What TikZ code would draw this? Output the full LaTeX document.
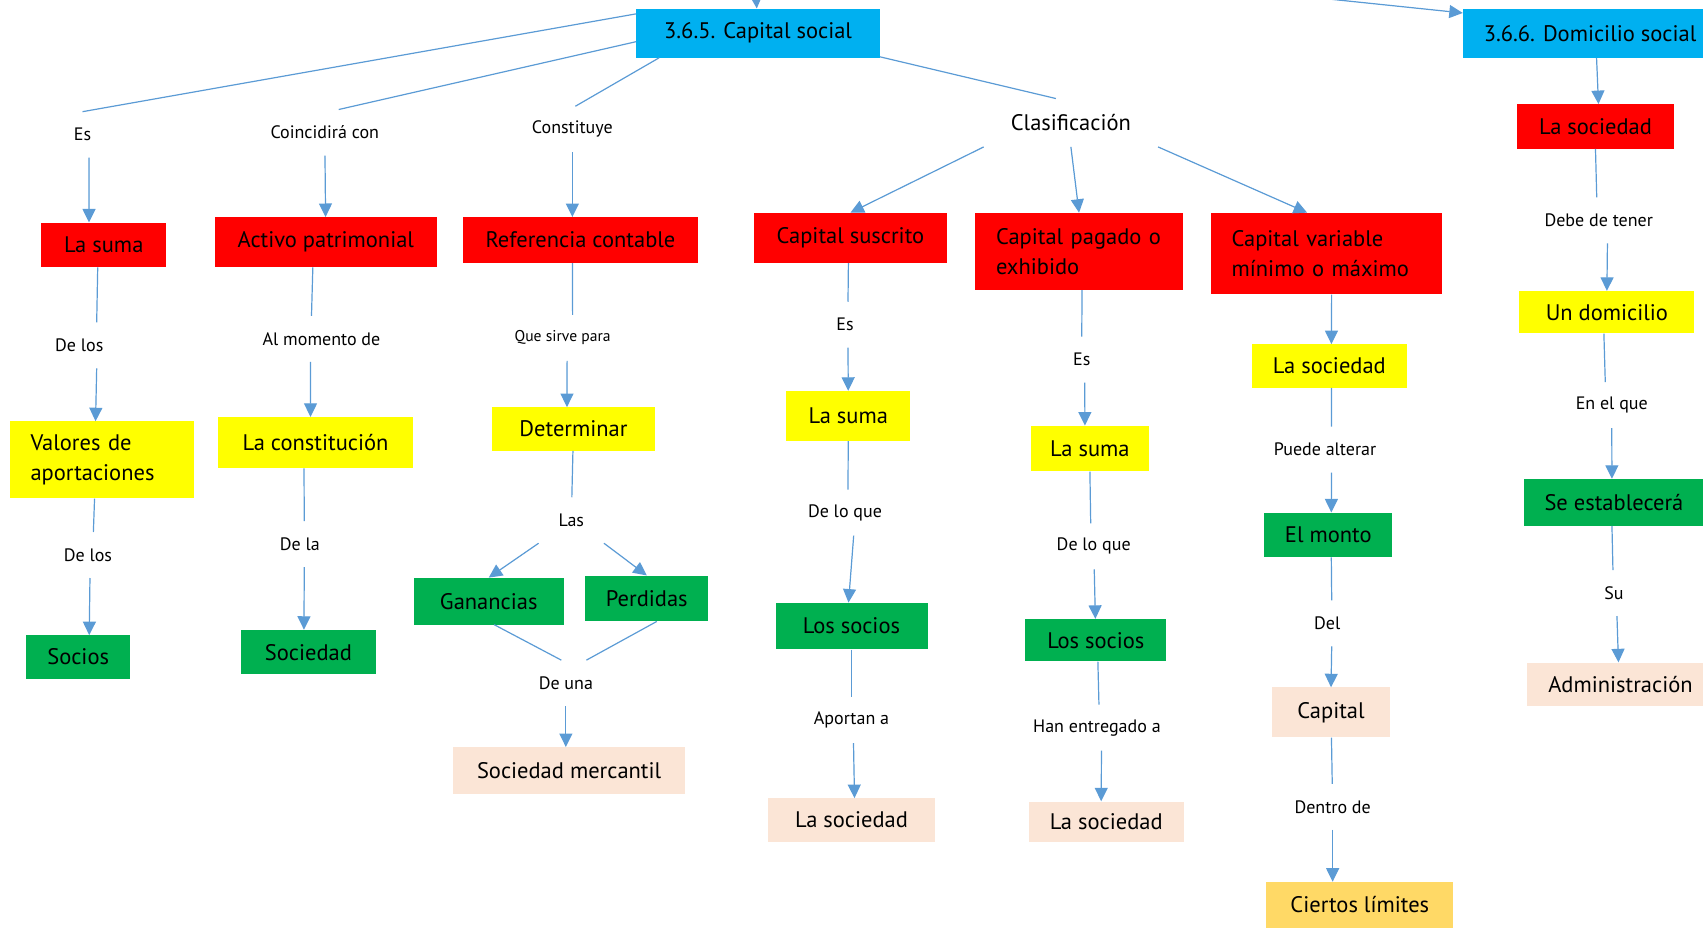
\documentclass[tikz,border=0pt]{standalone}
\usepackage{fontspec}
\setmainfont{PT Sans}
\usetikzlibrary{arrows.meta}

\definecolor{cian}{RGB}{0,176,240}
\definecolor{rojo}{RGB}{255,0,0}
\definecolor{amarillo}{RGB}{255,255,0}
\definecolor{verde}{RGB}{0,176,80}
\definecolor{durazno}{RGB}{251,229,214}
\definecolor{oro}{RGB}{255,217,102}
\definecolor{linea}{RGB}{91,155,213}

\begin{document}
\begin{tikzpicture}
  [x=1.0861pt, y=-1.0861pt,
   caja/.style={inner sep=0pt, font=\fontsize{22.5}{29.5}\selectfont},
   dos/.style={caja, align=left, inner xsep=21pt},
   titulo/.style={caja, fill=cian},
   rojobox/.style={caja, fill=rojo},
   amarillobox/.style={caja, fill=amarillo},
   verdebox/.style={caja, fill=verde},
   duraznobox/.style={caja, fill=durazno},
   frase/.style={inner sep=0pt, minimum height=45.6pt, font=\fontsize{18}{21}\selectfont},
   conn/.style={draw=linea, line width=1.2pt},
   arr/.style={conn, -{Triangle[length=13.5pt,width=13pt]}, fill=linea}]
  \useasboundingbox (0,0) rectangle (1568,854);

  % conceptos principales
  \node[titulo, minimum width=243.3pt, minimum height=48.9pt] (cap365) at (698,30.5) {3.6.5. Capital social};
  \node[titulo, minimum width=254.1pt, minimum height=48.9pt] (dom366) at (1464,30.5) {3.6.6. Domicilio social};
  \coordinate (entrada1) at (695,-25);
  \coordinate (entrada2) at (1107,-13);
  \draw[arr] (entrada1) -- (cap365);
  \draw[arr] (entrada2) -- (dom366.171);

  % frases de primer nivel
  \node[frase] (lEs1) at (76,124) {Es};
  \node[frase] (lCoin) at (299,122) {Coincidirá con};
  \node[frase] (lConst) at (527,119) {Constituye};
  \node[frase, minimum width=174pt, minimum height=48pt, font=\fontsize{22.5}{26}\selectfont] (lClas) at (986,113) {Clasificación};
  \draw[conn] (cap365.171) -- (lEs1.north);
  \draw[conn] (cap365.184) -- ([xshift=14pt]lCoin.north);
  \draw[conn] (cap365.194) -- ([xshift=3pt]lConst.north);
  \draw[conn] (cap365.349) -- ([xshift=-15pt]lClas.north);

  % Es
  \node[rojobox, minimum width=125pt, minimum height=44.5pt] (lasumaA) at (95.5,225.5) {La suma};
  \node[frase] (lDelos1) at (73,318) {De los};
  \node[amarillobox, dos, text width=142pt, minimum height=77pt] (valores) at (93.5,423.5) {\mbox{Valores de}\\\mbox{aportaciones}};
  \node[frase] (lDelos2) at (81,511) {De los};
  \node[verdebox, minimum width=104.3pt, minimum height=43.5pt] (socios) at (72,605) {Socios};
  \draw[arr] ([xshift=6.5pt]lEs1.south) -- ([xshift=-14.7pt]lasumaA.north);
  \draw[conn] ([xshift=-6pt]lasumaA.south) -- ([xshift=17.4pt]lDelos1.north);
  \draw[arr] ([xshift=17.4pt]lDelos1.south) -- ([xshift=-6pt]valores.north);
  \draw[conn] ([xshift=-7pt]valores.south) -- ([xshift=5.4pt]lDelos2.north);
  \draw[arr] ([xshift=2pt]lDelos2.south) -- ([xshift=11pt]socios.north);

  % Coincidira con
  \node[rojobox, minimum width=221.6pt, minimum height=50pt] (activo) at (300,223) {Activo patrimonial};
  \node[frase] (lAlmom) at (296,312) {Al momento de};
  \node[amarillobox, minimum width=194.4pt, minimum height=51pt] (lacons) at (290.5,407.5) {La constitución};
  \node[frase] (lDela) at (276,501) {De la};
  \node[verdebox, minimum width=134.7pt, minimum height=44.5pt] (sociedad) at (284,600.5) {Sociedad};
  \draw[arr] (lCoin) -- (activo);
  \draw[conn] ([xshift=-13pt]activo.south) -- ([xshift=-10pt]lAlmom.north);
  \draw[arr] ([xshift=-11pt]lAlmom.south) -- ([xshift=-5pt]lacons.north);
  \draw[conn] ([xshift=-11.5pt]lacons.south) -- ([xshift=4.5pt]lDela.north);
  \draw[arr] ([xshift=4.5pt]lDela.south) -- ([xshift=-4.5pt]sociedad.north);

  % Constituye
  \node[rojobox, minimum width=235.7pt, minimum height=45.6pt] (refcont) at (534.5,221) {Referencia contable};
  \node[frase, font=\fontsize{15.6}{18}\selectfont] (lQue) at (518,311) {Que sirve para};
  \node[amarillobox, minimum width=163pt, minimum height=43.4pt] (determinar) at (528,395) {Determinar};
  \node[frase, minimum width=65pt] (lLas) at (526,479) {Las};
  \node[verdebox, minimum width=150pt, minimum height=46.7pt] (ganancias) at (450,553.5) {Ganancias};
  \node[verdebox, minimum width=122.7pt, minimum height=45.6pt] (perdidas) at (595.5,551) {Perdidas};
  \node[frase] (lDeuna) at (521,629) {De una};
  \node[duraznobox, minimum width=232.4pt, minimum height=46.7pt] (socmerc) at (524,709.5) {Sociedad mercantil};
  \draw[arr] (lConst.south) -- (lConst.south |- refcont.north);
  \draw[conn] ([xshift=-8pt]refcont.south) -- ([xshift=10pt]lQue.north);
  \draw[arr] ([xshift=4.5pt]lQue.south) -- ([xshift=-6.5pt]determinar.north);
  \draw[conn] (determinar) -- (lLas);
  \draw[arr] (lLas.south west) -- (ganancias.north);
  \draw[arr] (lLas.south east) -- (perdidas.north);
  \draw[conn] ([xshift=5.5pt]ganancias.south) -- ([xshift=-4.5pt]lDeuna.north);
  \draw[conn] ([xshift=10pt]perdidas.south) -- ([xshift=20.5pt]lDeuna.north);
  \draw[arr] (lDeuna.south) -- (lDeuna.south |- socmerc.north);

  % Clasificacion
  \node[rojobox, minimum width=193.3pt, minimum height=50pt] (capsus) at (783,219) {Capital suscrito};
  \node[rojobox, dos, text width=166pt, minimum height=77pt] (cappag) at (993.5,231.5) {\mbox{Capital pagado o}\\\mbox{exhibido}};
  \node[rojobox, dos, text width=189pt, minimum height=81.5pt] (capvar) at (1221,233.5) {\mbox{Capital variable}\\\mbox{mínimo o máximo}};
  \draw[arr] (lClas.south west) -- (capsus.north);
  \draw[arr] (lClas.south) -- (cappag.north);
  \draw[arr] (lClas.south east) -- ([xshift=-19pt]capvar.north);

  % Capital suscrito
  \node[frase] (lEs2) at (778,299) {Es};
  \node[amarillobox, minimum width=123.8pt, minimum height=50pt] (lasumaB) at (781,383) {La suma};
  \node[frase] (lDeloque1) at (778,472) {De lo que};
  \node[verdebox, minimum width=152pt, minimum height=46.7pt] (lossociosA) at (784,576.5) {Los socios};
  \node[frase] (lAportan) at (784,663) {Aportan a};
  \node[duraznobox, minimum width=167.3pt, minimum height=43.4pt] (lasocA) at (784,755) {La sociedad};
  \draw[conn] ([xshift=-2pt]capsus.south) -- ([xshift=3pt]lEs2.north);
  \draw[arr] ([xshift=3pt]lEs2.south) -- (lasumaB.north);
  \draw[conn] (lasumaB.south) -- ([xshift=3pt]lDeloque1.north);
  \draw[arr] ([xshift=8.7pt]lDeloque1.south) -- ([xshift=-3pt]lossociosA.north);
  \draw[conn] (lossociosA) -- (lAportan);
  \draw[arr] ([xshift=2pt]lAportan.south) -- ([xshift=3pt]lasocA.north);

  % Capital pagado o exhibido
  \node[frase] (lEs3) at (996,331) {Es};
  \node[amarillobox, minimum width=118.4pt, minimum height=45.6pt] (lasumaC) at (1003.5,413) {La suma};
  \node[frase] (lDeloque2) at (1007,503) {De lo que};
  \node[verdebox, minimum width=141.2pt, minimum height=42.4pt] (lossociosB) at (1009,589.5) {Los socios};
  \node[frase] (lHan) at (1010,670) {Han entregado a};
  \node[duraznobox, minimum width=155.3pt, minimum height=40.2pt] (lasocB) at (1018.5,756.5) {La sociedad};
  \draw[conn] ([xshift=3pt]cappag.south) -- (lEs3.north);
  \draw[arr] ([xshift=3pt]lEs3.south) -- ([xshift=-5pt]lasumaC.north);
  \draw[conn] (lasumaC.south) -- ([xshift=-3pt]lDeloque2.north);
  \draw[arr] (lDeloque2) -- (lossociosB);
  \draw[conn] ([xshift=2pt]lossociosB.south) -- ([xshift=2pt]lHan.north);
  \draw[arr] ([xshift=4.5pt]lHan.south) -- ([xshift=-5pt]lasocB.north);

  % Capital variable
  \node[amarillobox, minimum width=154.2pt, minimum height=43.4pt] (lasocC) at (1224,337) {La sociedad};
  \node[frase] (lPuede) at (1220,414) {Puede alterar};
  \node[verdebox, minimum width=128.2pt, minimum height=44.5pt] (elmonto) at (1223,492.5) {El monto};
  \node[frase] (lDel) at (1222,574) {Del};
  \node[duraznobox, minimum width=118.4pt, minimum height=50pt] (capital) at (1225.5,656) {Capital};
  \node[frase] (lDentro) at (1227,743) {Dentro de};
  \node[caja, fill=oro, minimum width=186.8pt, minimum height=45.6pt] (ciertos) at (1252,833) {Ciertos límites};
  \draw[arr] ([xshift=5.5pt]capvar.south) -- ([xshift=2pt]lasocC.north);
  \draw[conn] ([xshift=2pt]lasocC.south) -- ([xshift=6.5pt]lPuede.north);
  \draw[arr] ([xshift=6.5pt]lPuede.south) -- ([xshift=3pt]elmonto.north);
  \draw[conn] ([xshift=3pt]elmonto.south) -- ([xshift=4.5pt]lDel.north);
  \draw[arr] ([xshift=4.5pt]lDel.south) -- (capital.north);
  \draw[conn] (capital) -- (lDentro);
  \draw[arr] (lDentro.south) -- (lDentro.south |- ciertos.north);

  % Domicilio social
  \node[rojobox, minimum width=156.4pt, minimum height=44.5pt] (lasocD) at (1469,116.5) {La sociedad};
  \node[frase] (lDebe) at (1472,203) {Debe de tener};
  \node[amarillobox, minimum width=174.9pt, minimum height=42.4pt] (undomicilio) at (1479.5,287.5) {Un domicilio};
  \node[frase] (lEnelque) at (1484,373) {En el que};
  \node[verdebox, minimum width=180pt, minimum height=46.7pt] (seestablecera) at (1486,462.5) {Se establecerá};
  \node[frase] (lSu) at (1486,546) {Su};
  \node[duraznobox, minimum width=187pt, minimum height=43.4pt] (admin) at (1492,630) {Administración};
  \draw[arr] ([xshift=6.5pt]dom366.south) -- ([xshift=3pt]lasocD.north);
  \draw[conn] (lasocD.south) -- ([xshift=-2pt]lDebe.north);
  \draw[arr] ([xshift=8.7pt]lDebe.south) -- (undomicilio.north);
  \draw[conn] ([xshift=-3pt]undomicilio.south) -- ([xshift=-6.5pt]lEnelque.north);
  \draw[arr] (lEnelque.south) -- ([xshift=-2pt]seestablecera.north);
  \draw[conn] ([xshift=-2pt]seestablecera.south) -- ([xshift=-1pt]lSu.north);
  \draw[arr] ([xshift=3pt]lSu.south) -- ([xshift=-2pt]admin.north);
\end{tikzpicture}
\end{document}
